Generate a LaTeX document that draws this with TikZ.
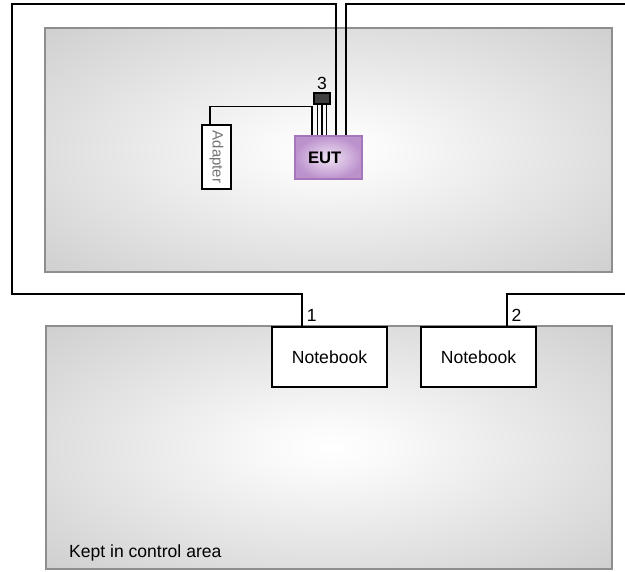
\documentclass[tikz,border=0pt]{standalone}
\usepackage{fontspec}
\setmainfont{Liberation Sans}
\usetikzlibrary{positioning}

\definecolor{roomedge}{HTML}{8E8E8E}
\definecolor{eutlight}{HTML}{F0E4F4}
\definecolor{eutdark}{HTML}{BC92CD}
\definecolor{eutedge}{HTML}{A676BC}

\pgfdeclareradialshading{roomshade}{\pgfpoint{0bp}{0bp}}{%
  color(0bp)=(white); color(5bp)=(white!98!black); color(25bp)=(white!87!black); color(36bp)=(white!81!black); color(50bp)=(white!81!black)}

\tikzset{
  room/.style={draw=roomedge, line width=0.9pt, shading=roomshade, inner sep=0pt},
  device/.style={draw=black, fill=white, line width=0.6pt, inner sep=0pt, font=\fontsize{10}{12}\selectfont},
  eutbox/.style={draw=eutedge, line width=0.8pt, inner color=eutlight, outer color=eutdark,
    minimum width=1.34cm, minimum height=0.86cm, inner sep=0pt, font=\bfseries\fontsize{9.5}{11}\selectfont},
  wire/.style={draw=black, line width=0.7pt},
  tag/.style={inner sep=1pt, font=\fontsize{10}{12}\selectfont}
}

\begin{document}
\begin{tikzpicture}[x=0.02cm, y=-0.02cm]
    \useasboundingbox (0,0) rectangle (625,571);

    % Draw the two rooms
    \node[room, minimum width=11.34cm, minimum height=4.88cm] (upperroom) at (328.5,150) {};
    \node[room, minimum width=11.32cm, minimum height=4.86cm] (lowerroom) at (329,447.5) {};
    \node[tag, anchor=base west] (keptnote) at (67,557) {Kept in control area};

    % Draw the devices
    \node[eutbox] (eut) at (328.5,157.5) {\hspace*{-0.15cm}EUT};
    \node[draw=black, fill=black!75, line width=0.6pt, minimum width=0.32cm, minimum height=0.22cm, inner sep=0pt] (ferrite) at (322,98.5) {};
    \node[tag, above=0.5pt of ferrite] (ferritetag) {3};
    \node[device, minimum width=0.58cm, minimum height=1.28cm] (adapter) at (216.5,157)
      {\rotatebox{-90}{\color{black!55}\fontsize{8.5}{10}\selectfont Adapter}};
    \node[device, minimum width=2.3cm, minimum height=1.2cm] (nbA) at (329.5,357) {Notebook};
    \node[device, minimum width=2.3cm, minimum height=1.2cm] (nbB) at (478.5,357) {Notebook};

    % Cable ends
    \coordinate (wireA) at ([xshift=-0.55cm]nbA.north);
    \coordinate (wireB) at ([xshift=0.57cm]nbB.north);
    \coordinate (exitR) at (625,4);
    \coordinate (entryR) at (625,294);

    % Draw the cables
    \draw[wire] ([xshift=-0.13cm]adapter.north) |- ([xshift=-0.33cm,yshift=0.58cm]eut.north) -- ([xshift=-0.33cm]eut.north);
    \foreach \dx in {-0.09,0,0.09}
      \draw[wire] ([xshift=\dx cm]ferrite.south) -- ([xshift=\dx cm]ferrite.south |- eut.north);
    \draw[wire] ([xshift=0.15cm]eut.north) |- (12,4) |- (wireA |- 0,294) -- (wireA);
    \draw[wire] ([xshift=0.35cm]eut.north) |- (exitR);
    \draw[wire] (entryR) -| (wireB);

    % Add labels
    \node[tag, anchor=south west, xshift=1.5pt, yshift=1.5pt] (tagA) at (wireA) {1};
    \node[tag, anchor=south west, xshift=1.5pt, yshift=1.5pt] (tagB) at (wireB) {2};
\end{tikzpicture}
\end{document}
